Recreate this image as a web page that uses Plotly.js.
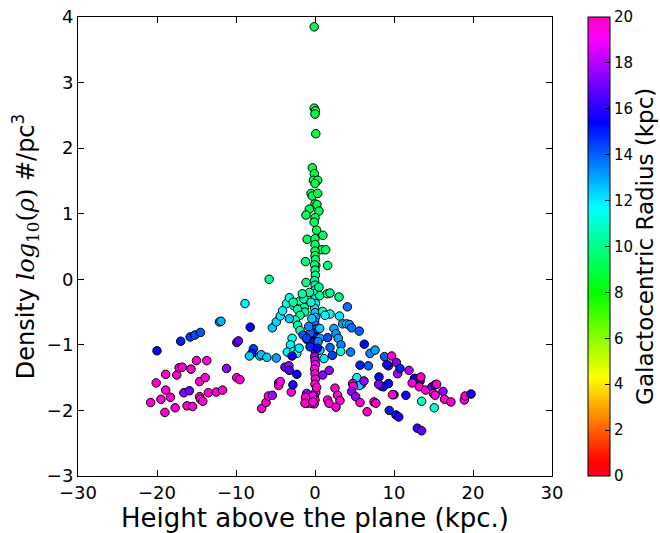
<!DOCTYPE html>
<html>
<head>
<meta charset="utf-8">
<script src="https://cdn.plot.ly/plotly-3.0.1.min.js"></script>
<style>html,body{margin:0;padding:0;background:#fff;}#chart{width:660px;height:533px;}</style>
</head>
<body>
<div id="chart"></div>
<script>
// Height above the plane (kpc)
const heightKpc = [
  // upper green column
  -0.1,-0.1,0.05,0.0,0.1,-0.34,-0.08,-0.2,0.34,0.0,-0.5,-0.34,0.34,0.0,0.25,-0.72,-1.14,0.5,0.0,-0.1,0.2,-1.0,0.0,1.0,0.0,0.85,1.35,0.0,0.0,-1.2,0.1,1.6,
  // central column
  0.05,-0.05,0.0,0.05,-0.05,0.0,0.05,-0.05,0.0,0.05,-0.05,0.0,0.05,-0.05,0.0,0.05,-0.05,0.0,0.05,-0.05,0.0,0.05,-0.05,0.0,0.05,-0.05,0.0,0.05,0.0,0.1,-0.1,0.0,-0.1,
  // left inner cluster
  -5.4,-4.9,-4.4,-4.1,-3.6,-3.25,-2.7,-1.9,-1.35,-1.3,-2.75,-2.2,-1.9,-2.5,-2.2,-1.9,-3.25,-2.9,-3.1,-3.5,-2.7,-2.3,-2.0,-1.5,-1.0,-0.6,-0.8,-1.4,-0.7,-0.5,-1.14,-1.6,-0.4,-0.3,-1.05,-0.63,
  // right inner cluster
  0.5,0.6,0.97,1.9,1.27,3.1,0.6,0.63,0.63,1.14,1.6,1.9,2.2,0.4,0.3,0.97,1.8,1.56,1.9,3.04,
  // right wing
  4.1,3.5,4.0,4.35,4.64,5.6,2.4,2.66,2.95,3.29,3.25,6.24,6.96,7.6,4.5,5.7,6.75,8.8,9.7,9.3,10.3,10.46,10.76,11.9,8.1,9.3,8.4,8.65,8.05,5.3,5.9,5.6,6.2,4.77,4.85,4.64,5.15,5.7,2.53,2.87,3.16,1.6,1.77,2.66,6.6,7.47,7.7,9.4,10.25,10.6,12.95,13.5,10.0,9.8,11.5,12.6,13.3,13.4,12.3,13.2,14.0,14.8,15.2,15.4,14.98,15.2,16.2,16.4,17.2,13.5,15.1,18.9,19.0,19.75,9.1,
  // left wing
  -20.0,-17.0,-15.8,-15.2,-14.5,-12.1,-11.9,-8.86,-8.2,-5.8,-9.9,-9.7,-7.8,-8.0,-8.3,-7.0,-6.8,-6.1,-4.9,
  -20.8,-20.1,-19.5,-19.0,-18.9,-18.9,-18.3,-17.7,-17.5,-17.2,-16.8,-16.6,-15.9,-16.2,-15.7,-15.5,-15.0,-14.6,-14.6,-14.5,-14.2,-13.9,-13.7,-13.5,-12.5,-11.7,-11.2,-9.9,-9.5,
  -6.75,-6.2,-5.9,-5.4,-4.6,-4.6,-4.4,-3.8,-3.3,-3.25,-3.0,-2.8,-2.3,-2.9,
  // bottom near the plane
  -1.05,-1.0,-0.6,-0.5,-0.3,-1.2,-1.27,-0.25,0.2
];
// Density log10(rho) #/pc^3
const logDensity = [
  3.85,2.61,2.57,2.52,2.22,1.70,1.61,1.51,1.51,1.46,1.31,1.27,1.31,1.15,1.14,1.07,0.98,1.04,0.94,0.87,0.75,0.61,0.62,0.67,0.53,0.45,0.45,0.43,0.36,0.27,0.21,0.21,
  0.30,0.22,0.14,0.06,-0.02,-0.09,-0.16,-0.22,-0.30,-0.37,-0.44,-0.51,-0.58,-0.64,-0.70,-0.76,-0.82,-0.88,-0.94,-1.00,-1.06,-1.12,-1.18,-1.24,-1.30,-1.37,-1.44,-1.52,-1.60,-1.72,-1.78,-1.84,-1.90,
  -0.74,-0.65,-0.56,-0.48,-0.37,-0.28,-0.40,-0.33,-0.43,-0.50,-0.35,-0.46,-0.55,-0.62,-0.70,-0.78,-0.60,-0.90,-1.00,-1.11,-1.10,-1.13,-1.05,-0.85,-0.92,-0.82,-0.72,-0.30,-0.20,-0.35,-0.05,-0.22,-0.60,-0.96,-0.90,-1.03,
  -0.12,-0.25,-0.49,-0.53,-0.55,-0.56,-0.75,-0.90,-1.08,-1.21,-0.89,-1.04,-1.16,-0.95,-1.05,-1.46,-1.39,-0.22,-0.21,-0.27,
  -0.42,-0.68,-0.68,-0.69,-0.74,-0.79,-0.75,-0.83,-0.90,-1.00,-1.10,-0.99,-1.13,-1.08,-1.11,-1.31,-1.32,-1.18,-1.17,-1.32,-1.27,-1.44,-1.36,-1.39,-1.49,-1.59,-1.63,-1.64,-1.60,-1.50,-1.60,-1.62,-1.55,-1.59,-1.63,-1.71,-1.79,-1.88,-1.66,-1.77,-1.85,-1.84,-1.89,-1.95,-2.02,-1.87,-1.89,-2.00,-2.07,-2.10,-2.27,-2.31,-1.76,-1.76,-1.77,-1.51,-1.55,-1.49,-1.58,-1.64,-1.69,-1.64,-1.61,-1.60,-1.74,-1.77,-1.71,-1.83,-1.87,-1.86,-1.96,-1.84,-1.78,-1.75,-1.30,
  -1.09,-0.945,-0.88,-0.85,-0.81,-0.65,-0.64,-0.37,-0.73,0.0,-0.965,-0.94,-1.06,-1.13,-1.17,-1.17,-1.15,-1.19,-1.20,
  -1.88,-1.58,-1.83,-2.03,-1.69,-1.45,-1.80,-1.96,-1.46,-1.35,-1.34,-1.73,-1.70,-1.93,-1.37,-1.94,-1.24,-1.56,-1.79,-1.83,-1.86,-1.50,-1.24,-1.73,-1.72,-1.69,-1.36,-1.50,-1.53,
  -1.97,-1.88,-1.78,-1.77,-1.58,-1.62,-1.56,-1.34,-1.32,-1.39,-1.72,-1.61,-1.45,-1.17,
  -1.74,-1.89,-1.82,-1.89,-1.78,-1.80,-1.89,-1.87,-1.65
];
// Galactocentric radius (kpc)
const radiusKpc = [
  9.2,9.1,9.1,9.1,9.1,9.0,9.1,9.1,9.2,9.1,9.3,9.2,9.1,9.2,9.1,9.3,9.2,9.3,9.2,9.3,9.3,9.4,9.4,9.4,9.5,9.6,9.5,9.5,9.6,9.7,9.7,9.8,
  9.7,9.8,9.9,10.0,10.2,10.5,10.8,11.0,11.3,11.7,12.2,12.5,12.8,13.2,13.6,14.0,14.5,15.0,15.5,16.0,16.8,17.3,17.8,18.5,19.0,19.4,19.6,19.7,19.7,19.6,19.4,19.6,19.2,
  12.5,12.3,12.0,11.8,11.5,11.3,11.2,10.8,10.5,10.2,10.5,10.4,10.3,10.8,10.4,10.6,12.6,11.5,11.8,11.9,11.3,11.6,12.0,14.2,14.8,14.0,13.5,10.6,10.1,11.0,9.8,10.3,12.5,15.8,14.5,14.8,
  10.0,10.3,10.8,11.5,11.8,12.0,12.5,12.8,12.4,12.0,14.3,14.0,14.5,13.5,15.5,17.2,17.5,9.9,9.9,10.0,
  13.8,13.0,12.5,13.2,13.8,14.0,13.0,13.2,13.0,13.5,11.0,15.3,13.5,13.0,13.6,15.0,14.0,14.0,19.8,16.5,17.5,17.8,15.0,18.0,15.3,15.2,14.8,15.5,17.3,12.0,13.0,12.3,17.5,19.8,19.6,17.5,17.6,19.7,19.7,19.8,19.6,19.8,19.6,19.8,19.8,19.7,19.8,15.0,15.3,15.8,16.2,16.8,15.5,19.5,15.7,15.5,16.0,19.8,19.7,19.8,19.7,17.0,15.8,19.8,19.8,19.5,17.4,19.8,19.8,10.8,11.0,19.5,19.9,15.8,15.6,
  15.5,15.0,14.5,14.3,14.2,13.0,12.8,12.0,15.5,10.2,17.0,16.8,14.5,15.2,12.5,12.5,12.7,12.4,13.0,
  19.7,19.8,19.7,19.8,19.7,19.8,19.8,19.7,19.8,19.8,19.7,17.3,17.0,19.8,19.7,19.7,19.8,19.8,19.7,19.8,19.7,19.8,19.7,19.8,19.7,19.8,17.5,19.8,19.7,
  19.7,19.8,19.7,17.8,17.5,19.8,19.4,17.0,17.5,16.5,19.7,15.8,15.5,15.5,
  17.5,19.2,19.5,19.7,19.0,19.6,19.7,19.5,19.7
];
const xTicks = [-30,-20,-10,0,10,20,30];
const yTicks = [-3,-2,-1,0,1,2,3,4];
const cbTicks = [0,2,4,6,8,10,12,14,16,18,20];

// matplotlib gist_rainbow
const gistRainbow = [
  [0.000,'rgb(255,0,41)'],
  [0.030,'rgb(255,0,0)'],
  [0.215,'rgb(255,255,0)'],
  [0.400,'rgb(0,255,0)'],
  [0.586,'rgb(0,255,255)'],
  [0.770,'rgb(0,0,255)'],
  [0.954,'rgb(255,0,255)'],
  [1.000,'rgb(255,0,191)']
];

const font = 'DejaVu Sans, Liberation Sans, sans-serif';

const trace = {
  type: 'scatter',
  mode: 'markers',
  x: heightKpc,
  y: logDensity,
  marker: {
    size: 8.5,
    color: radiusKpc,
    cmin: 0, cmax: 20,
    colorscale: gistRainbow,
    line: {color: '#000', width: 1},
    showscale: true,
    colorbar: {
      thickness: 22, thicknessmode: 'pixels',
      len: 1, lenmode: 'fraction',
      x: 1.0757, xanchor: 'left', xpad: 0,
      y: 0.5, yanchor: 'middle', ypad: 0,
      outlinecolor: '#000', outlinewidth: 1,
      ticks: 'inside', ticklen: 5, tickcolor: '#000', tickwidth: 1,
      tickvals: cbTicks,
      tickfont: {family: font, size: 15, color: '#000'}
    }
  },
  hoverinfo: 'skip'
};

const axisCommon = {
  showgrid: false, zeroline: false,
  showline: true, linecolor: '#000', linewidth: 1, mirror: 'allticks',
  ticks: 'inside', ticklen: 6, tickwidth: 1, tickcolor: '#000',
  tickfont: {family: font, size: 18, color: '#000'}
};

const layout = {
  width: 660, height: 533,
  margin: {l: 78, r: 108, t: 17, b: 57},
  paper_bgcolor: '#fff', plot_bgcolor: '#fff',
  showlegend: false,
  xaxis: Object.assign({}, axisCommon, {
    range: [-30, 30], tickvals: xTicks,
    title: {text: 'Height above the plane (kpc.)', font: {family: font, size: 26, color: '#000'}, standoff: 0}
  }),
  yaxis: Object.assign({}, axisCommon, {
    range: [-3, 4], tickvals: yTicks,
    title: {text: 'Density <span style="font-family:DejaVu Serif"><i>log</i><sub>10</sub>(<i>ρ</i>)</span> #/pc<sup>3</sup>', font: {family: font, size: 24, color: '#000'}, standoff: 5}
  }),
  annotations: [{
    xref: 'paper', yref: 'paper', x: 1.195, y: 0.5,
    xanchor: 'center', yanchor: 'middle', textangle: -90, showarrow: false,
    text: 'Galactocentric Radius (kpc)',
    font: {family: font, size: 23, color: '#000'}
  }]
};

Plotly.newPlot('chart', [trace], layout, {displayModeBar: false, staticPlot: true});
</script>
</body>
</html>
